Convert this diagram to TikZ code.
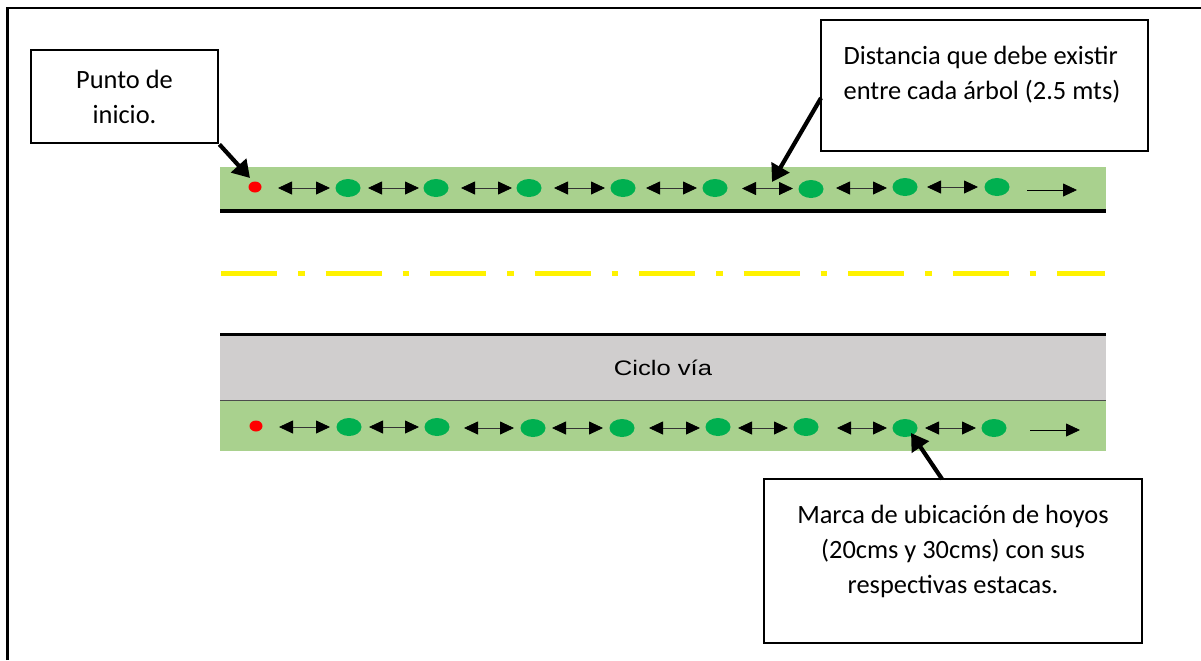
\documentclass[tikz,border=0pt]{standalone}
\usepackage{fontspec}
\setmainfont{Carlito}
\newfontfamily\arialfont{Liberation Sans}
\usepackage{tikz}
\usetikzlibrary{arrows.meta,shapes.geometric}
\definecolor{pasto}{HTML}{A9D18E}
\definecolor{gris}{HTML}{D0CECE}
\definecolor{hoyo}{HTML}{00B050}
\tikzset{
  caja/.style={draw=black,line width=1.4pt,fill=white,inner sep=0pt},
  texto/.style={font=\fontsize{13.2}{17.5}\selectfont,inner sep=0pt,align=center},
  marca/.style={ellipse,fill=hoyo,inner sep=0pt,minimum width=12.5pt,minimum height=9pt},
  inicio/.style={ellipse,fill=red,inner sep=0pt,minimum width=6.5pt,minimum height=5.5pt},
  flecha/.style={draw=black!80,line width=0.4pt,{Triangle[length=7pt,width=6.5pt,black]}-{Triangle[length=7pt,width=6.5pt,black]}},
  sentido/.style={draw=black,line width=0.4pt,-{Triangle[length=7pt,width=6.5pt,black]}},
  guia/.style={draw=black,line width=2.1pt,-{Triangle[length=8.5pt,width=10pt,black]}},
  borde/.style={line width=2pt,black}
}
\begin{document}
\begin{tikzpicture}[x=0.5pt,y=-0.5pt]
\useasboundingbox (0,0) rectangle (1201,660);
\draw[line width=1.3pt] (7.5,660) -- (7.5,8) -- (1201,8);
% franjas
\fill[pasto] (220,167) rectangle (1106,209);
\draw[borde] (220,210.5) -- (1106,210.5);
\draw[yellow,line width=2.5pt,dash pattern=on 28pt off 10.5pt on 3.25pt off 10.5pt] (221,273) -- (1105,273);
\draw[borde] (220,334.5) -- (1106,334.5);
\fill[gris] (220,336) rectangle (1106,400);
\fill[pasto] (220,400) rectangle (1106,451);
\draw[black!70,line width=0.5pt] (220,400) -- (1106,400);
\node[font=\arialfont\fontsize{10.5}{12}\selectfont,xscale=1.22,inner sep=0pt,text=black] (ciclo) at (663,368) {Ciclo vía};
% fila de arriba
\node[inicio] (rojoA) at (255,187) {};
\foreach \n/\x/\y in {1/348/188,2/436/188,3/529/188,4/623/188,5/715/188,6/811/189,7/905/187,8/997/187}
  \node[marca] (arribaM\n) at (\x,\y) {};
\foreach \n/\xa/\xb/\y in {1/278/330/188,2/368/419/188,3/461/512/188,4/554/605/188,5/646/697/188,6/742/793/188.5,7/836/887/188,8/927/978/187}{
  \coordinate (arribaI\n) at (\xa,\y);
  \coordinate (arribaD\n) at (\xb,\y);
  \draw[flecha] (arribaI\n) -- (arribaD\n);
}
\coordinate (finA1) at (1027,190);
\coordinate (finA2) at (1077,190);
\draw[sentido] (finA1) -- (finA2);
% fila de abajo
\node[inicio] (rojoB) at (256,426) {};
\foreach \n/\x/\y in {1/349/427,2/437/427,3/533/428,4/622/428,5/718/427,6/806/427,7/905/428,8/994/428}
  \node[marca] (abajoM\n) at (\x,\y) {};
\foreach \n/\xa/\xb/\y in {1/279/330/427,2/369/419/427,3/464/514/428,4/552/603/428,5/649/700/428,6/738/788/428,7/837/887/428,8/925/976/428}{
  \coordinate (abajoI\n) at (\xa,\y);
  \coordinate (abajoD\n) at (\xb,\y);
  \draw[flecha] (abajoI\n) -- (abajoD\n);
}
\coordinate (finB1) at (1030,430);
\coordinate (finB2) at (1080,430);
\draw[sentido] (finB1) -- (finB2);
% cajas
\node[caja,minimum width=93.5pt,minimum height=46.5pt] (cajaInicio) at (124.5,96.5) {};
\node[texto] (txtInicio) at (124.5,97) {Punto de\\inicio.};
\node[caja,minimum width=163.5pt,minimum height=65.5pt] (cajaDist) at (984.5,85.5) {};
\node[texto,align=left] (txtDist) at (982,74.5) {Distancia que debe existir\\entre cada árbol (2.5 mts)};
\node[caja,minimum width=189pt,minimum height=82pt] (cajaMarca) at (953,561) {};
\node[texto] (txtMarca) at (953,551) {Marca de ubicación de hoyos\\(20cms y 30cms) con sus\\respectivas estacas.};
% guias
\coordinate (puntaInicio) at (250,178);
\coordinate (puntaDist) at (772,182);
\coordinate (salidaDist) at (821,98);
\coordinate (puntaMarca) at (911,433);
\coordinate (salidaMarca) at (942,479);
\draw[guia] (cajaInicio.south east) -- (puntaInicio);
\draw[guia] (salidaDist) -- (puntaDist);
\draw[guia] (salidaMarca) -- (puntaMarca);
\end{tikzpicture}
\end{document}
